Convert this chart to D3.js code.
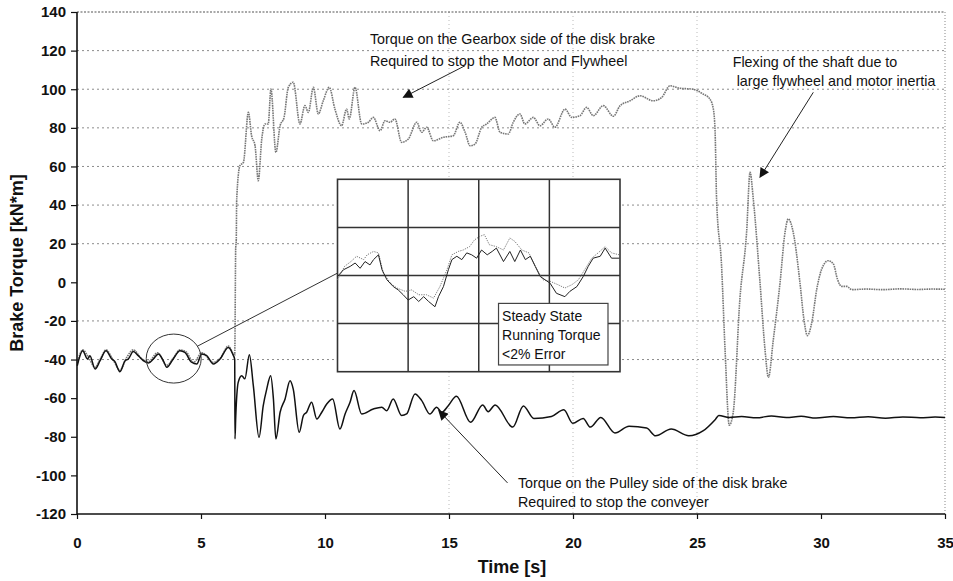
<!DOCTYPE html>
<html><head><meta charset="utf-8">
<script src="https://cdn.jsdelivr.net/npm/d3@7"></script>
<style>
body{margin:0;background:#fff;}
text{font-family:"Liberation Sans",Arial,sans-serif;}
</style></head>
<body><svg id="c" width="953" height="581"></svg>
<script>
// ---- data ----
const xTicks = [0,5,10,15,20,25,30,35];
const yTicks = [-120,-100,-80,-60,-40,-20,0,20,40,60,80,100,120,140];
const gridValues = [120,100,80,60,40,20,-20,-40];
const vGridValues = [15,20,25];

// Torque on the pulley side (black)
const pulleyT = [0.01,0.23,0.42,0.52,0.73,0.93,1.17,1.4,1.53,1.73,1.94,2.07,2.27,2.47,2.67,2.88,3.08,3.28,3.48,3.62,3.88,4.15,4.35,4.62,4.83,5.03,5.23,5.5,5.77,6.1,6.3,
 6.36,6.37,6.4,6.5,6.64,6.77,6.95,7.11,7.34,7.51,7.65,7.81,7.92,8.02,8.19,8.39,8.59,8.72,8.96,9.13,9.26,9.46,9.67,9.87,10.07,10.31,10.6,10.81,11.01,11.17,11.48,11.95,12.29,12.49,12.75,13.09,13.29,13.63,13.9,14.23,14.5,14.71,14.97,
 15.3,15.87,16.36,16.58,16.86,17.57,18.0,18.42,19.13,19.63,19.99,20.41,20.7,21.12,21.69,22.26,22.97,23.33,23.96,24.67,25.24,25.74,25.88,26.3,26.8,27.4,28,28.6,29.2,29.8,30.5,31.2,31.9,32.6,33.3,34,34.6,35];
const pulleyV = [-43.2,-35.4,-39.7,-38,-44.9,-40.6,-35.4,-39.7,-41.1,-46.3,-40.6,-39.7,-35.9,-38,-40.6,-41.8,-39.7,-37.1,-40.6,-44,-39.7,-35.4,-36.3,-41.4,-42.3,-37.1,-38,-42.3,-39.7,-33.7,-37.8,
 -40,-81.1,-70,-51.8,-48.4,-50,-37.5,-53.5,-80.3,-63.9,-55.3,-48.4,-60.4,-81.1,-67.3,-60.4,-51,-55.3,-77.7,-69,-67.3,-62.1,-70.8,-67.3,-63,-60.4,-76,-68.2,-62.1,-56.1,-68.2,-65.6,-64.7,-66.5,-60.4,-69,-68.2,-57.8,-61.3,-68.2,-64.7,-67.3,-63.9,
 -59,-72.5,-63.5,-67,-63.5,-75,-64,-70.5,-69.5,-66,-73,-70.5,-75,-70,-78,-74.5,-75.5,-79.5,-76,-79.5,-77,-71,-69,-70,-69.5,-70.2,-69.2,-70,-69.4,-70.3,-69.5,-70.2,-69.6,-70.4,-69.7,-70.2,-69.8,-70];

// Torque on the gearbox side (grey)
const gearT = [0.01,0.23,0.45,0.73,0.95,1.17,1.45,1.73,2.0,2.27,2.6,2.88,3.25,3.62,3.9,4.15,4.4,4.7,5.03,5.5,5.8,6.1,6.3,6.36,6.4,6.42,6.44,6.57,6.71,6.91,7.04,7.18,7.31,7.45,7.58,7.71,7.82,8.02,8.19,8.35,8.52,8.72,8.99,9.19,9.33,9.53,9.73,9.93,10.17,10.4,10.67,10.87,10.98,11.21,11.48,11.75,11.95,12.22,12.42,12.62,12.82,13.09,13.36,13.7,13.9,14.1,14.37,14.77,15.17,15.44,15.65,15.85,16.05,16.32,16.52,16.85,17.06,17.39,17.59,17.86,18.06,18.4,18.67,19.0,19.27,19.68,19.95,20.28,20.55,20.82,21.22,21.63,21.9,22.3,22.7,23.24,23.58,23.91,24.31,24.79,25.25,25.52,25.66,25.73,25.79,25.99,26.13,26.3,26.46,26.73,27.0,27.14,27.27,27.54,27.74,27.88,28.08,28.35,28.55,28.68,28.88,29.15,29.31,29.45,29.63,29.83,30.03,30.29,30.5,30.66,30.83,31.04,31.24,31.8,32.5,33.2,33.9,34.5,35];
const gearV = [-42,-35,-38.5,-44,-39.5,-35,-40,-45.5,-39,-35,-39.5,-41,-36.5,-43,-39,-35,-36,-41.5,-36.5,-41.5,-39,-33,-37,-38,18,21,43.1,60.4,62.1,88,75.9,70.7,52.6,74.2,82,82,100.1,67.3,81.1,85.4,101,103.6,82,91.5,88,101,87.2,94,101,89.7,81.1,89.7,84.6,101,82,82.9,85.4,78.5,83.7,82.9,84.6,72.5,74.2,82.9,77.7,80.3,73.3,75.1,75.9,82.9,77.7,70.7,71.6,80.3,82,85.4,77.7,76.8,82.9,87.2,82,85.4,81.1,84.6,80.3,89.7,85.4,86.3,90.6,86.3,91.5,86,91.5,94,96.6,94,95.8,101.8,100.5,100.1,97.5,94.9,89.7,77.7,43,8.6,-34.5,-74,-67.5,-8.6,25.9,57,43.1,0,-34.5,-49.2,-29.4,0,25.9,32.8,25.9,0,-19,-27.6,-20.7,-3.5,6.9,11.2,9.5,1.7,-2.1,-2.1,-3.8,-3.5,-3.8,-3.4,-3.7,-3.5,-3.6];

// Inset (zoom of steady state), in inset grid units
const insetBlackX = [0,0.085,0.18,0.25,0.32,0.39,0.46,0.51,0.58,0.63,0.7,0.79,0.86,0.93,1.0,1.08,1.15,1.22,1.29,1.38,1.43,1.5,1.57,1.62,1.69,1.76,1.83,1.9,1.97,2.04,2.12,2.19,2.25,2.35,2.44,2.51,2.59,2.66,2.73,2.8,2.87,2.94,3.01,3.1,3.22,3.29,3.39,3.48,3.55,3.62,3.72,3.79,3.88,3.99];
const insetBlackY = [-0.02,0.12,0.19,0.26,0.15,0.29,0.22,0.33,0.43,0.12,-0.09,-0.23,-0.3,-0.4,-0.51,-0.44,-0.54,-0.44,-0.54,-0.65,-0.44,-0.23,0.12,0.33,0.4,0.33,0.47,0.43,0.36,0.53,0.43,0.5,0.57,0.29,0.5,0.29,0.53,0.33,0.4,0.19,-0.02,-0.09,-0.16,-0.37,-0.44,-0.33,-0.23,-0.02,0.19,0.36,0.4,0.57,0.36,0.36];
const insetGreyX = [0,0.1,0.19,0.27,0.37,0.42,0.51,0.58,0.65,0.75,0.84,0.96,1.05,1.15,1.26,1.36,1.45,1.55,1.62,1.71,1.78,1.87,1.94,2.01,2.08,2.15,2.25,2.35,2.44,2.51,2.61,2.71,2.8,2.91,3.01,3.12,3.22,3.32,3.41,3.5,3.6,3.69,3.79,3.88,3.99];
const insetGreyY = [-0.09,0.19,0.29,0.4,0.33,0.43,0.5,0.47,0.05,-0.16,-0.26,-0.33,-0.3,-0.4,-0.4,-0.47,-0.23,0.12,0.43,0.5,0.53,0.6,0.74,0.81,0.85,0.64,0.6,0.53,0.78,0.71,0.53,0.47,0.19,-0.09,-0.12,-0.19,-0.26,-0.19,-0.09,0.12,0.36,0.47,0.6,0.47,0.43];
const insetLabel = ["Steady State","Running Torque","<2% Error"];

const annGearbox = ["Torque on the Gearbox side of the disk brake","Required to stop the Motor and Flywheel"];
const annFlex = ["Flexing of the shaft due to"," large flywheel and motor inertia"];
const annPulley = ["Torque on the Pulley side of the disk brake","Required to stop the conveyer"];

// ---- drawing ----
const svg = d3.select("#c");
const x = d3.scaleLinear().domain([0,35]).range([77,945]);
const y = d3.scaleLinear().domain([-120,140]).range([514,12]);

// gridlines
svg.append("g").selectAll("line").data(gridValues).join("line")
  .attr("x1",x(0)).attr("x2",x(35)).attr("y1",d=>y(d)).attr("y2",d=>y(d))
  .attr("stroke","#8c8c8c").attr("stroke-width",1).attr("stroke-dasharray","2,3");
svg.append("g").selectAll("line").data(vGridValues).join("line")
  .attr("x1",d=>x(d)).attr("x2",d=>x(d)).attr("y1",y(140)).attr("y2",y(-120))
  .attr("stroke","#bbb").attr("stroke-width",1).attr("stroke-dasharray","1,3");
// top and right dotted border
svg.append("line").attr("x1",x(0)).attr("x2",x(35)).attr("y1",y(140)).attr("y2",y(140))
  .attr("stroke","#555").attr("stroke-width",1.2).attr("stroke-dasharray","2,1.5");
svg.append("line").attr("x1",x(35)).attr("x2",x(35)).attr("y1",y(140)).attr("y2",y(-120))
  .attr("stroke","#888").attr("stroke-width",1).attr("stroke-dasharray","1,2");

// series
const line = d3.line().x(d=>x(d[0])).y(d=>y(d[1])).curve(d3.curveMonotoneX);
const gearData = gearT.map((t,i)=>[t,gearV[i]]);
const pulleyData = pulleyT.map((t,i)=>[t,pulleyV[i]]);
svg.append("path").attr("d",line(gearData)).attr("fill","none")
  .attr("stroke","#777").attr("stroke-width",1.6).attr("stroke-dasharray","1.6,0.8");
svg.append("path").attr("d",line(pulleyData)).attr("fill","none")
  .attr("stroke","#111").attr("stroke-width",1.5);

// axes
const fmt = d => String(d);
const yAxis = d3.axisLeft(y).tickValues(yTicks).tickSize(6).tickPadding(5).tickFormat(fmt);
const gy = svg.append("g").attr("transform",`translate(${x(0)},0)`).call(yAxis);
const xAxis = d3.axisBottom(x).tickValues(xTicks).tickSize(5).tickPadding(18).tickFormat(fmt);
const gx = svg.append("g").attr("transform",`translate(0,${y(-120)})`).call(xAxis);
[gx,gy].forEach(g=>{
  g.attr("font-family",null).attr("font-size",null);
  g.select(".domain").attr("stroke","#111").attr("stroke-width",1.6);
  g.selectAll(".tick line").attr("stroke","#111").attr("stroke-width",1.2);
  g.selectAll(".tick text")
   .style("font-family","'Liberation Sans',Arial,sans-serif")
   .style("font-size","15px").style("font-weight","bold").attr("fill","#111");
});
gx.select(".domain").attr("d",`M${x(0)},0H${x(35)}`);
gy.select(".domain").attr("d",`M0,${y(-120)}V${y(140)}`);

svg.append("text").attr("x",512).attr("y",573).attr("text-anchor","middle")
  .style("font-size","18px").style("font-weight","bold").attr("fill","#111").text("Time [s]");
svg.append("text").attr("transform",`translate(23,${(y(140)+y(-120))/2}) rotate(-90)`)
  .attr("text-anchor","middle").style("font-size","18px").style("font-weight","bold").attr("fill","#111")
  .text("Brake Torque [kN*m]");

// circle + callout
const cx = x(3.9), cy = y(-39.5), rx = 27.5, ry = 24.5;
svg.append("ellipse").attr("cx",cx).attr("cy",cy).attr("rx",rx).attr("ry",ry)
  .attr("fill","none").attr("stroke","#333").attr("stroke-width",1);

// inset
const ix = d3.scaleLinear().domain([0,4]).range([337.5,620]);
const iy = d3.scaleLinear().domain([-2,2]).range([371.7,179.3]);
{
  const tx = ix(0), ty = iy(0.05);
  const dx = tx-cx, dy = ty-cy;
  const s = 1/Math.sqrt((dx/rx)**2+(dy/ry)**2);
  svg.append("line").attr("x1",cx+dx*s).attr("y1",cy+dy*s).attr("x2",tx).attr("y2",ty)
    .attr("stroke","#333").attr("stroke-width",1);
}
const inset = svg.append("g");
inset.append("rect").attr("x",ix(0)).attr("y",iy(2)).attr("width",ix(4)-ix(0)).attr("height",iy(-2)-iy(2))
  .attr("fill","#fff").attr("stroke","#333").attr("stroke-width",1.6);
inset.selectAll("line.v").data([1,2,3]).join("line").attr("class","v")
  .attr("x1",d=>ix(d)).attr("x2",d=>ix(d)).attr("y1",iy(2)).attr("y2",iy(-2))
  .attr("stroke","#333").attr("stroke-width",1.5);
inset.selectAll("line.h").data([1,0,-1]).join("line").attr("class","h")
  .attr("x1",ix(0)).attr("x2",ix(4)).attr("y1",d=>iy(d)).attr("y2",d=>iy(d))
  .attr("stroke","#333").attr("stroke-width",1.5);
const iline = d3.line().x(d=>ix(d[0])).y(d=>iy(d[1]));
inset.append("path").attr("d",iline(insetGreyX.map((v,i)=>[v,insetGreyY[i]])))
  .attr("fill","none").attr("stroke","#777").attr("stroke-width",1).attr("stroke-dasharray","1.2,1.2");
inset.append("path").attr("d",iline(insetBlackX.map((v,i)=>[v,insetBlackY[i]])))
  .attr("fill","none").attr("stroke","#222").attr("stroke-width",1);
inset.append("rect").attr("x",ix(2.28)).attr("y",iy(-0.58)).attr("width",ix(3.83)-ix(2.28)).attr("height",iy(-1.86)-iy(-0.58))
  .attr("fill","#fff").attr("stroke","#444").attr("stroke-width",1.2);
inset.selectAll("text").data(insetLabel).join("text")
  .attr("x",ix(2.33)).attr("y",(d,i)=>iy(-0.58)+18+i*19)
  .style("font-size","14px").attr("fill","#111").text(d=>d);

// annotations
const defs = svg.append("defs");
defs.append("marker").attr("id","ah").attr("viewBox","0 0 10 10").attr("refX",9).attr("refY",5)
  .attr("markerWidth",12).attr("markerHeight",10).attr("markerUnits","userSpaceOnUse").attr("orient","auto")
  .append("path").attr("d","M0,0L10,5L0,10Z").attr("fill","#111");
function arrow(t0,v0,t1,v1){
  svg.append("line").attr("x1",x(t0)).attr("y1",y(v0)).attr("x2",x(t1)).attr("y2",y(v1))
    .attr("stroke","#222").attr("stroke-width",1).attr("marker-end","url(#ah)");
}
function label(lines,t,v,dy){
  svg.append("g").selectAll("text").data(lines).join("text")
    .attr("x",x(t)).attr("y",(d,i)=>y(v)+i*dy).style("font-size","14.3px").attr("fill","#111")
    .attr("xml:space","preserve").text(d=>d);
}
label(annGearbox,11.81,123.4,21.5);
arrow(15.65,112.2,13.16,95.8);
label(annFlex,26.44,111.3,18.5);
arrow(29.69,98.4,27.54,54.4);
label(annPulley,17.78,-106.5,19.5);
arrow(17.36,-103.9,14.59,-66.5);
</script></body></html>
